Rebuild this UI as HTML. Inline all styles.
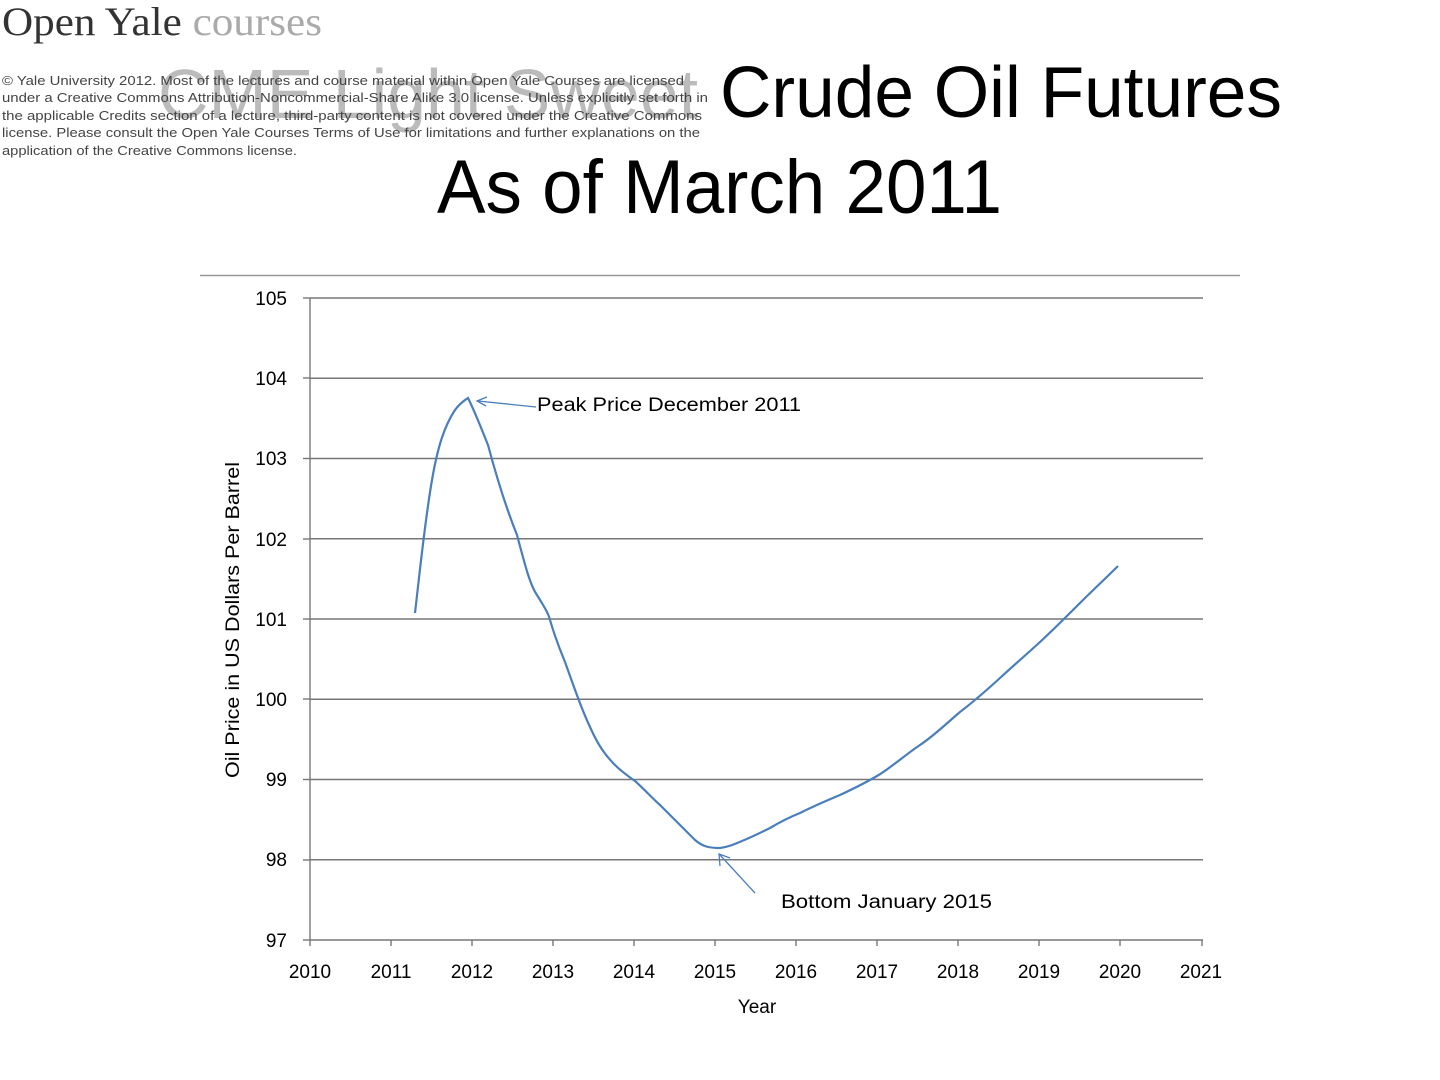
<!DOCTYPE html>
<html><head><meta charset="utf-8"><style>html,body{margin:0;padding:0;background:#fff}svg{display:block}</style></head>
<body>
<svg width="1440" height="1080" viewBox="0 0 1440 1080" xmlns="http://www.w3.org/2000/svg" font-family="Liberation Sans, sans-serif">
<text x="2" y="35" font-family="Liberation Serif, serif" font-size="40" fill="#333" textLength="320" lengthAdjust="spacingAndGlyphs">Open Yale <tspan fill="#aaa">courses</tspan></text>
<text x="158" y="118" font-size="70" fill="#bbb" textLength="540" lengthAdjust="spacingAndGlyphs">CME Light Sweet</text>
<g font-size="12.5" fill="#444">
<text x="2" y="85" textLength="682" lengthAdjust="spacingAndGlyphs">© Yale University 2012. Most of the lectures and course material within Open Yale Courses are licensed</text>
<text x="2" y="102" textLength="706" lengthAdjust="spacingAndGlyphs">under a Creative Commons Attribution-Noncommercial-Share Alike 3.0 license. Unless explicitly set forth in</text>
<text x="2" y="120" textLength="700" lengthAdjust="spacingAndGlyphs">the applicable Credits section of a lecture, third-party content is not covered under the Creative Commons</text>
<text x="2" y="137" textLength="698" lengthAdjust="spacingAndGlyphs">license. Please consult the Open Yale Courses Terms of Use for limitations and further explanations on the</text>
<text x="2" y="155" textLength="295" lengthAdjust="spacingAndGlyphs">application of the Creative Commons license.</text>
</g>
<text x="720" y="117" font-size="72" fill="#000" textLength="562" lengthAdjust="spacingAndGlyphs">Crude Oil Futures</text>
<text x="437" y="213" font-size="76" fill="#000" textLength="565" lengthAdjust="spacingAndGlyphs">As of March 2011</text>
<line x1="200" y1="275.5" x2="1240" y2="275.5" stroke="#999" stroke-width="1.5"/>
<g stroke="#777" stroke-width="1.4">
<line x1="310" y1="298" x2="1203" y2="298"/>
<line x1="310" y1="378.25" x2="1203" y2="378.25"/>
<line x1="310" y1="458.5" x2="1203" y2="458.5"/>
<line x1="310" y1="538.75" x2="1203" y2="538.75"/>
<line x1="310" y1="619" x2="1203" y2="619"/>
<line x1="310" y1="699.25" x2="1203" y2="699.25"/>
<line x1="310" y1="779.5" x2="1203" y2="779.5"/>
<line x1="310" y1="859.75" x2="1203" y2="859.75"/>
<line x1="310" y1="940" x2="1203" y2="940"/>
<line x1="310" y1="298" x2="310" y2="946"/>
<line x1="303" y1="298" x2="310" y2="298"/><line x1="303" y1="378" x2="310" y2="378"/><line x1="303" y1="458.5" x2="310" y2="458.5"/><line x1="303" y1="539" x2="310" y2="539"/><line x1="303" y1="619" x2="310" y2="619"/><line x1="303" y1="699" x2="310" y2="699"/><line x1="303" y1="779.5" x2="310" y2="779.5"/><line x1="303" y1="860" x2="310" y2="860"/><line x1="303" y1="940" x2="310" y2="940"/>
<line x1="391" y1="940" x2="391" y2="946"/><line x1="472" y1="940" x2="472" y2="946"/><line x1="553" y1="940" x2="553" y2="946"/><line x1="634" y1="940" x2="634" y2="946"/><line x1="715" y1="940" x2="715" y2="946"/><line x1="796" y1="940" x2="796" y2="946"/><line x1="877" y1="940" x2="877" y2="946"/><line x1="958" y1="940" x2="958" y2="946"/><line x1="1039" y1="940" x2="1039" y2="946"/><line x1="1120" y1="940" x2="1120" y2="946"/><line x1="1202" y1="940" x2="1202" y2="946"/>
</g>
<g font-size="19" fill="#000" text-anchor="end">
<text x="287" y="305">105</text><text x="287" y="385">104</text><text x="287" y="465">103</text><text x="287" y="546">102</text><text x="287" y="626">101</text><text x="287" y="706">100</text><text x="287" y="786">99</text><text x="287" y="866">98</text><text x="287" y="947">97</text>
</g>
<g font-size="19" fill="#000" text-anchor="middle">
<text x="310" y="978">2010</text><text x="391" y="978">2011</text><text x="472" y="978">2012</text><text x="553" y="978">2013</text><text x="634" y="978">2014</text><text x="715" y="978">2015</text><text x="796" y="978">2016</text><text x="877" y="978">2017</text><text x="958" y="978">2018</text><text x="1039" y="978">2019</text><text x="1120" y="978">2020</text><text x="1201" y="978">2021</text>
<text x="757" y="1013">Year</text>
</g>
<text transform="translate(239,620) rotate(-90)" font-size="19" text-anchor="middle" textLength="316" lengthAdjust="spacingAndGlyphs">Oil Price in US Dollars Per Barrel</text>
<path d="M415,613 C420,570 425,520 432,480 C438,445 445,425 455,410 C460,403 465,400 468,398 C475,412 482,430 488,445 C496,475 505,505 517,535 C525,565 530,585 537,595 C543,605 548,612 550,620 C555,637 560,650 565,662 C575,690 582,710 590,727 C598,745 605,755 615,765 C622,772 628,776 635,781 C645,790 652,798 660,805 C672,817 685,830 695,840 C703,847 710,848 720,848 C728,847 735,844 742,841 C752,837 760,833 770,828 C780,822 790,817 800,813 C812,807 828,800 840,795 C855,788 865,783 877,776 C892,767 905,755 920,745 C935,735 948,722 960,712 C973,702 988,689 1000,678 C1014,665 1027,654 1040,642 C1053,630 1066,617 1080,603 C1093,590 1106,578 1118,566" fill="none" stroke="#4a7ebb" stroke-width="2.2"/>
<g stroke="#4a7ebb" stroke-width="1.3" fill="none">
<line x1="478" y1="401" x2="536" y2="407"/><path d="M487,397 L477,401 L486,406"/>
<line x1="720" y1="855" x2="755" y2="893"/><path d="M720,866 L719,854 L730,858"/>
</g>
<text x="537" y="411" font-size="19" textLength="264" lengthAdjust="spacingAndGlyphs">Peak Price December 2011</text>
<text x="781" y="908" font-size="19" textLength="211" lengthAdjust="spacingAndGlyphs">Bottom  January 2015</text>
</svg>
</body></html>
